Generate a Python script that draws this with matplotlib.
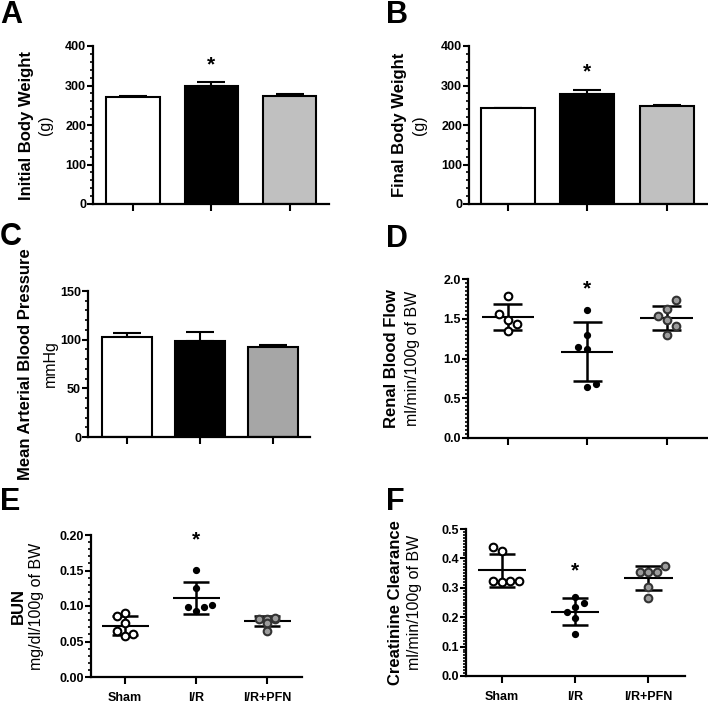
import numpy as np
import matplotlib
matplotlib.use("Agg")
import matplotlib.pyplot as plt
from matplotlib.ticker import MultipleLocator, FormatStrFormatter

plt.rcParams['font.family'] = ['Liberation Sans', 'DejaVu Sans']

groups = ['Sham', 'I/R', 'I/R+PFN']

# bar panels: mean and SEM
initial_bw_mean = [272, 299, 274]
initial_bw_sem = [1.5, 9, 3.5]
final_bw_mean = [242, 278, 248]
final_bw_sem = [1.5, 10, 3]
map_mean = [103, 99, 92]
map_sem = [4, 9, 2.5]

# scatter panels: individual animals
rbf_sham = [1.79, 1.56, 1.48, 1.44, 1.35]
rbf_ir = [1.61, 1.30, 1.15, 1.12, 0.64, 0.68]
rbf_pfn = [1.73, 1.62, 1.53, 1.49, 1.41, 1.30]

bun_sham = [0.086, 0.090, 0.076, 0.065, 0.058, 0.060]
bun_ir = [0.151, 0.125, 0.099, 0.093, 0.098, 0.101]
bun_pfn = [0.082, 0.082, 0.082, 0.083, 0.076, 0.065]

crcl_sham = [0.440, 0.426, 0.323, 0.321, 0.323, 0.323]
crcl_ir = [0.270, 0.249, 0.219, 0.236, 0.196, 0.142]
crcl_pfn = [0.353, 0.353, 0.353, 0.374, 0.304, 0.264]

# asterisk heights (y value) for I/R in each panel
star_a, star_b, star_d, star_e, star_f = 352, 334, 1.87, 0.193, 0.356

W, H = 708, 703
fig = plt.figure(figsize=(W / 100, H / 100), dpi=100)


def make_axes(l, t, r, b):
    ax = fig.add_axes([l / W, 1 - b / H, (r - l) / W, (b - t) / H])
    for s in ['top', 'right']:
        ax.spines[s].set_visible(False)
    for s in ['left', 'bottom']:
        ax.spines[s].set_linewidth(1.6)
    ax.tick_params(which='major', direction='out', length=4, width=1.5,
                   labelsize=9, pad=1)
    ax.tick_params(which='minor', direction='out', length=2.5, width=1.2)
    ax.tick_params(axis='x', length=5, width=1.5, pad=6)
    ax.set_xticks(range(3))
    return ax


def ylabels(ax, x1, x2, main, unit):
    pos = ax.get_position()
    yc = (pos.y0 + pos.y1) / 2
    fig.text(x1 / W, yc, main, rotation=90, ha='center', va='center',
             fontsize=12, fontweight='bold')
    fig.text(x2 / W, yc, unit, rotation=90, ha='center', va='center',
             fontsize=11.5)


def bar_panel(ax, means, sems, colors, ymax, major, minor):
    x = np.arange(3)
    ax.bar(x, means, width=0.68, color=colors, edgecolor='black',
           linewidth=1.5, zorder=2)
    ax.errorbar(x, means, yerr=[np.zeros(3), sems], fmt='none',
                ecolor='black', elinewidth=1.5, capsize=10, capthick=1.5,
                zorder=1)
    ax.set_ylim(0, ymax)
    ax.yaxis.set_major_locator(MultipleLocator(major))
    ax.yaxis.set_minor_locator(MultipleLocator(minor))


def scatter_panel(ax, data, offsets, ymax, major, minor, fmt):
    styles = [dict(mfc='white', mec='black', ms=5.5, mew=1.5),
              dict(mfc='black', mec='black', ms=4.2, mew=1),
              dict(mfc='#9c9c9c', mec='#333333', ms=5.5, mew=1.5)]
    for i, (vals, offs) in enumerate(zip(data, offsets)):
        vals = np.array(vals)
        xs = i + np.array(offs) * 0.115
        m, sd = vals.mean(), vals.std(ddof=1)
        ax.plot(xs, vals, 'o', zorder=3, **styles[i])
        ax.hlines(m, i - 0.33, i + 0.33, color='black', lw=1.5, zorder=2)
        ax.hlines([m - sd, m + sd], i - 0.18, i + 0.18, color='black',
                  lw=1.8, zorder=2)
        ax.vlines(i, m - sd, m + sd, color='black', lw=1.8, zorder=2)
    ax.set_ylim(0, ymax)
    ax.yaxis.set_major_locator(MultipleLocator(major))
    ax.yaxis.set_minor_locator(MultipleLocator(minor))
    ax.yaxis.set_major_formatter(FormatStrFormatter(fmt))


def star(ax, y):
    ax.text(1, y, '*', ha='center', va='center', fontsize=15,
            fontweight='bold')


def letter(x, y, s):
    fig.text(x / W, 1 - y / H, s, ha='left', va='top', fontsize=22,
             fontweight='bold')


# A
axA = make_axes(93, 46, 329, 204)
bar_panel(axA, initial_bw_mean, initial_bw_sem,
          ['white', 'black', '#c0c0c0'], 400, 100, 20)
axA.set_xlim(-0.51, 2.5)
star(axA, star_a)
ylabels(axA, 27, 46, 'Initial Body Weight', '(g)')

# B
axB = make_axes(469, 46, 708, 204)
bar_panel(axB, final_bw_mean, final_bw_sem,
          ['white', 'black', '#c0c0c0'], 400, 100, 20)
axB.set_xlim(-0.49, 2.52)
star(axB, star_b)
ylabels(axB, 399, 419, 'Final Body Weight', '(g)')

# C
axC = make_axes(88, 291, 310, 437)
bar_panel(axC, map_mean, map_sem, ['white', 'black', '#a6a6a6'], 150, 50, 10)
axC.set_xlim(-0.53, 2.51)
ylabels(axC, 26, 50, 'Mean Arterial Blood Pressure', 'mmHg')

# D
axD = make_axes(468, 279, 708, 438)
scatter_panel(axD, [rbf_sham, rbf_ir, rbf_pfn],
              [[0, -1, 0, 1, 0], [0, 0, -1, 0, 0, 1], [1, 0, -1, 0, 1, 0]],
              2.0, 0.5, 0.05, '%.1f')
axD.set_xlim(-0.5, 2.52)
star(axD, star_d)
ylabels(axD, 392, 413, 'Renal Blood Flow', 'ml/min/100g of BW')

# E
axE = make_axes(91, 535, 302, 677)
scatter_panel(axE, [bun_sham, bun_ir, bun_pfn],
              [[-1, 0, 0, -1, 0, 1], [0, 0, -1, 0, 1, 2], [-1, 0, 1, 1, 0, 0]],
              0.20, 0.05, 0.01, '%.2f')
axE.set_xlim(-0.48, 2.49)
star(axE, star_e)
ylabels(axE, 18, 37, 'BUN', 'mg/dl/100g of BW')

# F
axF = make_axes(466, 529, 685, 676)
scatter_panel(axF, [crcl_sham, crcl_ir, crcl_pfn],
              [[-1, 0, -1, 0, 1, 2], [0, 1, -1, 0, 0, 0], [-1, 0, 1, 2, 0, 0]],
              0.5, 0.1, 0.01, '%.1f')
axF.set_xlim(-0.49, 2.5)
star(axF, star_f)
ylabels(axF, 395, 415, 'Creatinine Clearance', 'ml/min/100g of BW')

for ax in [axA, axB, axC, axD]:
    ax.set_xticklabels([])
for ax in [axE, axF]:
    ax.set_xticklabels(groups, fontsize=9, fontweight='bold')
for ax in [axA, axB, axC, axD, axE, axF]:
    for lab in ax.get_yticklabels():
        lab.set_fontweight('bold')

letter(0, 0, 'A')
letter(386, 0, 'B')
letter(0, 222, 'C')
letter(386, 224, 'D')
letter(0, 487, 'E')
letter(386, 487, 'F')

fig.savefig('out.png', dpi=100)
